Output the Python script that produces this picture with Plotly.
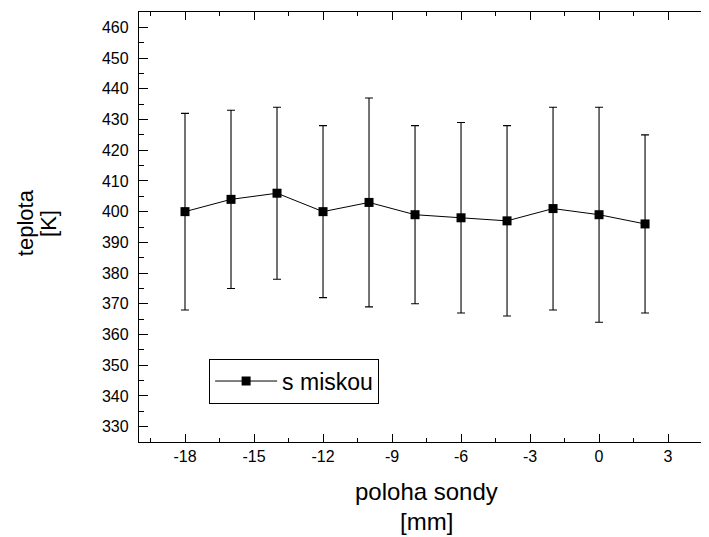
import plotly.graph_objects as go

# data
position_mm = [-18, -16, -14, -12, -10, -8, -6, -4, -2, 0, 2]
teplota_K = [400, 404, 406, 400, 403, 399, 398, 397, 401, 399, 396]
teplota_upper = [432, 433, 434, 428, 437, 428, 429, 428, 434, 434, 425]
teplota_lower = [368, 375, 378, 372, 369, 370, 367, 366, 368, 364, 367]
series_name = "s miskou"
x_tick_vals = [-18, -15, -12, -9, -6, -3, 0, 3]
y_tick_vals = [330, 340, 350, 360, 370, 380, 390, 400, 410, 420, 430, 440, 450, 460]

err_plus = [u - v for u, v in zip(teplota_upper, teplota_K)]
err_minus = [v - l for v, l in zip(teplota_K, teplota_lower)]

FONT = "Arial, 'Liberation Sans', sans-serif"

fig = go.Figure()
fig.add_trace(go.Scatter(
    x=position_mm, y=teplota_K, name=series_name, mode="lines+markers",
    line=dict(color="black", width=1),
    marker=dict(symbol="square", size=9, color="black"),
    error_y=dict(type="data", symmetric=False, array=err_plus, arrayminus=err_minus,
                 color="black", thickness=1.1, width=4),
))
# invisible trace for right mirrored ticks axis
fig.add_trace(go.Scatter(x=[position_mm[0]], y=[teplota_K[0]], yaxis="y2",
                         mode="markers", marker=dict(opacity=0), showlegend=False,
                         hoverinfo="skip"))

# page body has an 8px default margin; figure sized to fill the remaining window
fig.update_layout(
    width=701, height=529,
    margin=dict(l=131, r=0, t=4, b=95),
    paper_bgcolor="white", plot_bgcolor="white",
    font=dict(family=FONT, color="black", size=16),
    showlegend=True,
    legend=dict(x=0.123, y=0.194, xanchor="left", yanchor="top",
                bordercolor="black", borderwidth=1, bgcolor="white",
                font=dict(size=23, family=FONT), itemwidth=62,
                tracegroupgap=0),
    xaxis=dict(range=[-20, 4.78], tickmode="array", tickvals=x_tick_vals,
               ticktext=[str(v) for v in x_tick_vals],
               ticks="inside", ticklen=8, tickwidth=1.3, tickcolor="black",
               showline=True, linecolor="black", linewidth=1.3, mirror="ticks",
               showgrid=False, zeroline=False,
               minor=dict(dtick=1.5, tick0=0, ticks="inside", ticklen=4,
                          tickwidth=1.3, tickcolor="black"),
               tickfont=dict(size=16, family=FONT), ticklabelstandoff=0),
    yaxis=dict(range=[325, 465], tickmode="array", tickvals=y_tick_vals,
               ticks="inside", ticklen=9, tickwidth=1.3, tickcolor="black",
               showline=True, linecolor="black", linewidth=1.3, mirror=False,
               showgrid=False, zeroline=False,
               minor=dict(dtick=5, tick0=0, ticks="inside", ticklen=5,
                          tickwidth=1.3, tickcolor="black"),
               tickfont=dict(size=16, family=FONT), ticklabelstandoff=6),
    yaxis2=dict(range=[325, 465], overlaying="y", side="right", tickmode="array",
                tickvals=y_tick_vals, ticks="inside", ticklen=4, tickwidth=1.3,
                tickcolor="black", showticklabels=False, showline=False,
                showgrid=False, zeroline=False),
)

annots = [
    dict(text="poloha sondy", x=0.505, y=-0.116),
    dict(text="[mm]", x=0.505, y=-0.186),
]
for a in annots:
    fig.add_annotation(text=a["text"], x=a["x"], y=a["y"], xref="paper", yref="paper",
                       xanchor="center", yanchor="middle", showarrow=False,
                       font=dict(size=24, family=FONT, color="black"))
for txt, xp in [("teplota", -0.2), ("[K]", -0.16)]:
    fig.add_annotation(text=txt, x=xp, y=0.509, xref="paper", yref="paper",
                       xanchor="center", yanchor="middle", showarrow=False, textangle=-90,
                       font=dict(size=22, family=FONT, color="black"))

fig.write_html("out.html")
